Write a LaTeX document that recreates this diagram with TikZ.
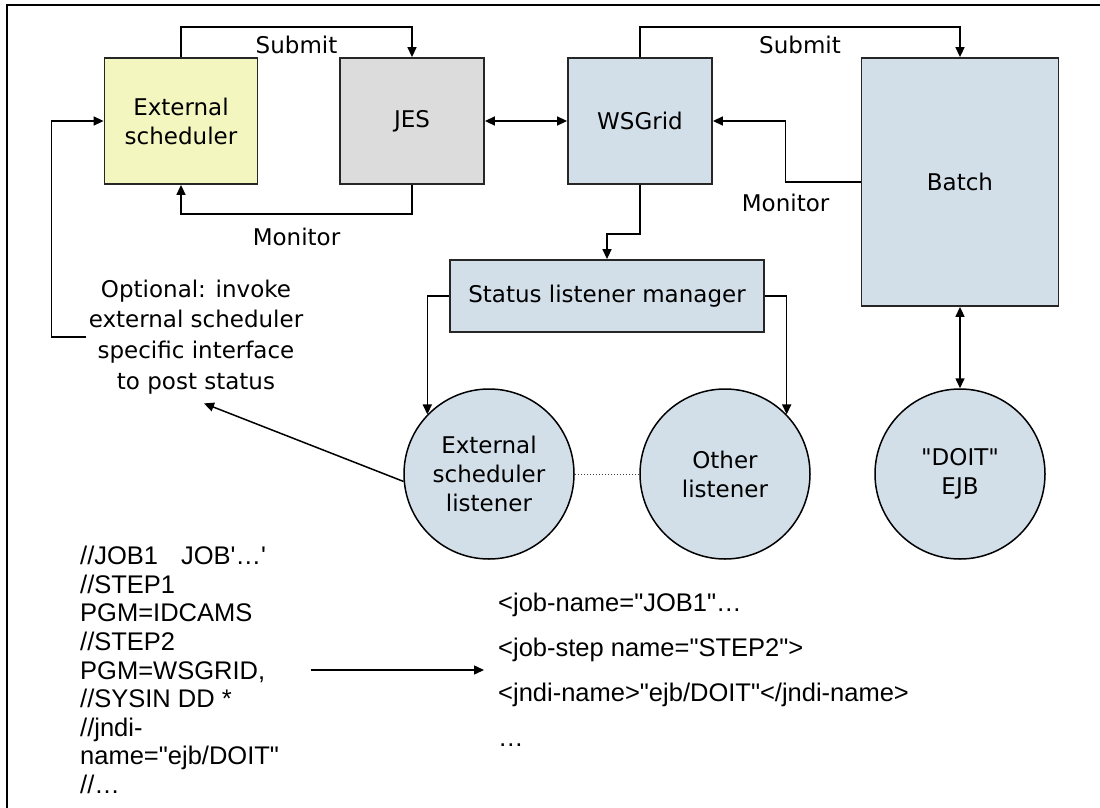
\documentclass[tikz,border=0pt]{standalone}
\usepackage{fontspec}
\setmainfont{DejaVu Sans}
\newfontfamily\codefont{Liberation Sans}
\usepackage{xcolor}
\usetikzlibrary{positioning, arrows.meta}

\definecolor{schedyellow}{HTML}{F3F6BE}
\definecolor{jesgray}{HTML}{DCDCDC}
\definecolor{gridblue}{HTML}{D2DFE8}

\begin{document}
\begin{tikzpicture}[x=1pt, y=-1pt, on grid, >={Triangle[length=10pt, width=9pt]},
    font=\fontsize{23}{29}\selectfont,
    box/.style={draw=black!85, line width=1.8pt, inner sep=0pt, align=center,
        minimum width=144pt, minimum height=126pt},
    bean/.style={circle, draw=black, line width=1.5pt, fill=gridblue,
        minimum size=170pt, inner sep=0pt, align=center},
    conn/.style={line width=1.5pt},
    code/.style={font=\codefont\fontsize{25.5}{28.6}\selectfont, align=left, inner sep=0pt},
    xmlcode/.style={font=\codefont\fontsize{25.5}{45}\selectfont, align=left, inner sep=0pt}]

    \useasboundingbox (0,0) rectangle (1100,808);
    \draw[line width=1.8pt] (7,808) |- (1100,5);

    % Top row
    \node[box, fill=schedyellow, minimum width=153pt] (es) at (181,121) {External\\scheduler};
    \node[box, fill=jesgray] (jes) [right=231pt of es] {JES};
    \node[box, fill=gridblue] (ws) [right=228pt of jes] {WSGrid};
    \node[box, fill=gridblue, minimum width=197pt, minimum height=248pt] (batch)
        [below right=61pt and 320pt of ws] {Batch};

    % Listener manager and listeners
    \node[box, fill=gridblue, minimum width=314pt, minimum height=72pt] (slm)
        [below left=175pt and 33pt of ws] {Status listener manager};
    \node[bean] (esl) [below left=178pt and 118pt of slm] {External\\scheduler\\listener};
    \node[bean] (other) [right=236pt of esl] {Other\\listener};
    \node[bean] (doit) [below=292pt of batch] {\textquotedbl DOIT\textquotedbl\\EJB};

    % Note on the left
    \node[align=center, inner sep=3pt, font=\fontsize{23}{30.7}\selectfont] (opt)
        [below right=216pt and 15pt of es]
        {Optional: invoke\\external scheduler\\specific interface\\to post status};
    \coordinate (optin) at ([xshift=8pt, yshift=-6pt]opt.south);

    % Job texts
    \node[code, anchor=west] (jcl) at (80,670)
        {//JOB1\hspace{0.9em}JOB\textquotesingle…\textquotesingle\\//STEP1\\PGM=IDCAMS\\//STEP2\\PGM=WSGRID,\\//SYSIN DD *\\//jndi-\\name="ejb/DOIT"\\//…};
    \node[xmlcode, anchor=west] (xml) at (498,670)
        {<job-name="JOB1"…\\<job-step name="STEP2">\\<jndi-name>"ejb/DOIT"</jndi-name>\\…};

    % Submit and monitor
    \draw[conn, ->] (es.north) -- ++(0,-30) -| node[pos=0.25, below=5pt] {Submit} (jes.north);
    \draw[conn, ->] (jes.south) -- ++(0,29) -| node[pos=0.25, below=10pt] {Monitor} (es.south);
    \draw[conn, ->] (ws.north) -- ++(0,-30) -| node[pos=0.25, below=5pt] {Submit} (batch.north);
    \draw[conn, ->] (batch.west) -- ++(-75,0) node[below=8pt] {Monitor} |- (ws.east);
    \draw[conn, <->] (jes.east) -- (ws.west);

    % Status flow
    \draw[conn, ->] (ws.south) -- ++(0,49) -| (slm.north);
    \draw[conn, ->] (slm.west) -| (esl.136);
    \draw[conn, ->] (slm.east) -| (other.44);
    \draw[dotted, line width=1pt, black!75] (esl.east) -- (other.west);
    \draw[conn, <->] (batch.south) -- (doit.north);
    \draw[conn, ->] (esl.185) -- (optin);
    \draw[conn, ->] (opt.west) -- ++(-34,0) |- (es.west);

    \draw[conn, ->, shorten <=32pt, shorten >=14pt] (jcl.east) -- (xml.west);
\end{tikzpicture}
\end{document}
